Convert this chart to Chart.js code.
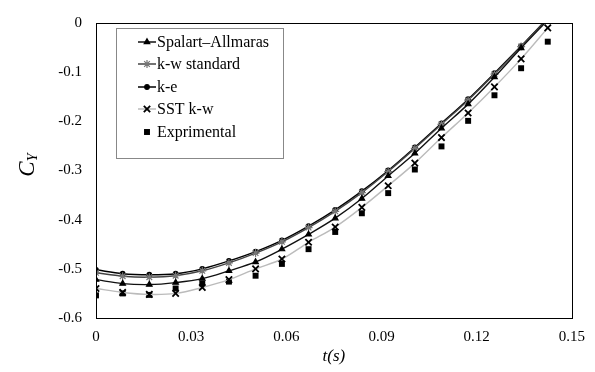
<!DOCTYPE html>
<html>
<head>
<meta charset="utf-8">
<script src="https://cdn.jsdelivr.net/npm/chart.js@4/dist/chart.umd.min.js"></script>
<style>
  html, body { margin: 0; padding: 0; background: #fff; }
  #wrap { width: 595px; height: 372px; position: relative; }
</style>
</head>
<body>
<div id="wrap"><canvas id="myChart" width="595" height="372"></canvas></div>
<script>
// time stamps (s)
const times = [0, 0.0084, 0.0168, 0.0251, 0.0335, 0.0419, 0.0503, 0.0586, 0.067,
  0.0754, 0.0838, 0.0921, 0.1005, 0.1089, 0.1173, 0.1256, 0.134, 0.1424];

// C_Y per model
const spalart = [-0.522, -0.530, -0.532, -0.528, -0.520, -0.504, -0.486, -0.460, -0.430,
  -0.397, -0.357, -0.311, -0.265, -0.214, -0.165, -0.110, -0.051, 0.006];
const kwStandard = [-0.508, -0.515, -0.517, -0.514, -0.504, -0.488, -0.468, -0.445, -0.416,
  -0.383, -0.345, -0.302, -0.255, -0.206, -0.157, -0.104, -0.048, 0.009];
const kE = [-0.502, -0.510, -0.512, -0.510, -0.500, -0.484, -0.465, -0.442, -0.413,
  -0.380, -0.342, -0.300, -0.253, -0.204, -0.155, -0.102, -0.047, 0.010];
const sstKw = [-0.540, -0.548, -0.552, -0.550, -0.538, -0.522, -0.500, -0.480, -0.446,
  -0.415, -0.375, -0.331, -0.285, -0.233, -0.183, -0.130, -0.073, -0.010];
const experimental = [-0.554, -0.550, -0.553, -0.540, -0.530, -0.526, -0.514, -0.490, -0.460,
  -0.425, -0.387, -0.346, -0.298, -0.251, -0.199, -0.147, -0.092, -0.038];

const xTicks = [0, 0.03, 0.06, 0.09, 0.12, 0.15];
const yTicks = [0, -0.1, -0.2, -0.3, -0.4, -0.5, -0.6];

const serif = "'Liberation Serif', 'Times New Roman', serif";

const pts = vals => vals.map((v, i) => ({ x: times[i], y: v }));

const series = (label, vals, color, ptColor, style, radius, extra) => Object.assign({
  label: label,
  data: pts(vals),
  borderColor: color,
  backgroundColor: ptColor,
  pointBorderColor: ptColor,
  pointBackgroundColor: ptColor,
  pointStyle: style,
  pointRadius: radius,
  pointBorderWidth: 1.2,
  borderWidth: 1.4,
  tension: 0.35,
  showLine: true
}, extra || {});

const datasets = [
  series('Spalart\u2013Allmaras', spalart, '#111', '#000', 'triangle', 3.2),
  series('k-w standard', kwStandard, '#444', '#777', 'star', 4),
  series('k-e', kE, '#000', '#000', 'circle', 2.3),
  series('SST k-w', sstKw, '#bbb', '#000', 'crossRot', 4.5, { pointBorderWidth: 1.8 }),
  series('Exprimental', experimental, '#000', '#000', 'rect', 4.2, { showLine: false, pointBorderWidth: 0 })
];

// frame, axis titles, legend box
const decorPlugin = {
  id: 'decor',
  afterDraw(chart) {
    const ctx = chart.ctx;
    const a = chart.chartArea;
    ctx.save();
    ctx.strokeStyle = '#000';
    ctx.lineWidth = 1;
    ctx.strokeRect(Math.round(a.left) + 0.5, Math.round(a.top) + 0.5,
      Math.round(a.right - a.left), Math.round(a.bottom - a.top));

    // x title
    ctx.fillStyle = '#000';
    ctx.font = "italic 17px " + serif;
    ctx.textAlign = 'center';
    ctx.textBaseline = 'middle';
    ctx.fillText('t(s)', (a.left + a.right) / 2, 357);

    // y title C_Y
    ctx.save();
    ctx.translate(26, 165);
    ctx.rotate(-Math.PI / 2);
    ctx.textAlign = 'left';
    ctx.textBaseline = 'alphabetic';
    ctx.font = "italic 23px " + serif;
    const cw = ctx.measureText('C').width;
    ctx.fillText('C', -cw / 2 - 4, 8);
    ctx.font = "italic 14px " + serif;
    ctx.fillText('Y', cw / 2 - 4, 11);
    ctx.restore();

    // legend
    const bx = 116, by = 28, bw = 167, bh = 130;
    ctx.fillStyle = '#fff';
    ctx.fillRect(bx, by, bw, bh);
    ctx.strokeStyle = '#888';
    ctx.strokeRect(bx + 0.5, by + 0.5, bw, bh);
    const rows = [42, 64, 87, 109, 132];
    chart.data.datasets.forEach((ds, i) => {
      const y = rows[i];
      if (ds.showLine) {
        ctx.strokeStyle = ds.borderColor;
        ctx.lineWidth = 1.5;
        ctx.beginPath();
        ctx.moveTo(138, y);
        ctx.lineTo(156, y);
        ctx.stroke();
      }
      ctx.fillStyle = ds.pointBackgroundColor;
      ctx.strokeStyle = ds.pointBorderColor;
      ctx.lineWidth = ds.pointBorderWidth;
      Chart.helpers.drawPoint(ctx, {
        pointStyle: ds.pointStyle,
        radius: ds.pointRadius,
        borderWidth: ds.pointBorderWidth,
        rotation: 0
      }, 147, y);
      ctx.fillStyle = '#000';
      ctx.font = "16px " + serif;
      ctx.textAlign = 'left';
      ctx.textBaseline = 'middle';
      ctx.fillText(ds.label, 157, y + 1);
    });
    ctx.restore();
  }
};

new Chart(document.getElementById('myChart'), {
  type: 'line',
  data: { datasets: datasets },
  options: {
    responsive: false,
    animation: false,
    layout: { padding: { left: 0, right: 23, top: 17, bottom: 0 } },
    plugins: { legend: { display: false }, tooltip: { enabled: false } },
    scales: {
      x: {
        type: 'linear',
        min: 0,
        max: 0.15,
        afterFit: s => { s.height = 54; },
        afterBuildTicks: s => { s.ticks = xTicks.map(v => ({ value: v })); },
        grid: { display: false, drawTicks: false },
        border: { display: true, color: '#000', width: 1 },
        ticks: {
          padding: 10,
          color: '#000',
          font: { family: serif, size: 15 },
          maxRotation: 0,
          callback: v => String(v)
        }
      },
      y: {
        type: 'linear',
        min: -0.6,
        max: 0,
        afterFit: s => { s.width = 96; },
        afterBuildTicks: s => { s.ticks = yTicks.map(v => ({ value: v })); },
        grid: { display: false, drawTicks: false },
        border: { display: true, color: '#000', width: 1 },
        ticks: {
          padding: 14,
          color: '#000',
          font: { family: serif, size: 15 },
          callback: v => String(v)
        }
      }
    }
  },
  plugins: [decorPlugin]
});
</script>
</body>
</html>
